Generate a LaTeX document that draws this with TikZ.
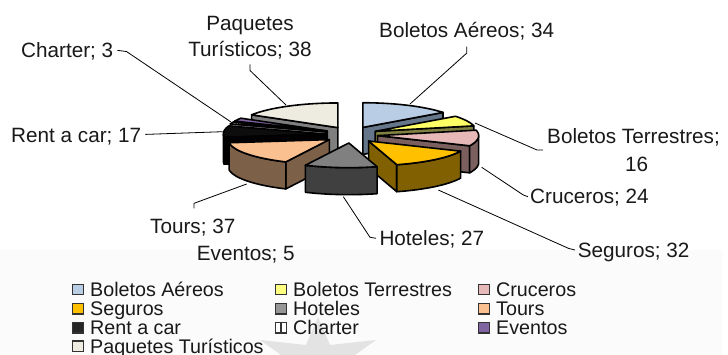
\documentclass[tikz,border=0pt]{standalone}
\usepackage{fontspec}
\setmainfont{Liberation Sans}
\definecolor{aerT}{HTML}{B9CDE5}\definecolor{aerS}{HTML}{66768A}
\definecolor{terT}{HTML}{FFFF66}\definecolor{terS}{HTML}{808040}
\definecolor{cruT}{HTML}{E6B9B8}\definecolor{cruS}{HTML}{7A5F5E}
\definecolor{segT}{HTML}{FFC000}\definecolor{segS}{HTML}{806000}
\definecolor{hotT}{HTML}{808080}\definecolor{hotS}{HTML}{404040}
\definecolor{touT}{HTML}{FAC090}\definecolor{touS}{HTML}{7D6048}
\definecolor{renT}{HTML}{0D0D0D}\definecolor{renS}{HTML}{000000}
\definecolor{chaT}{HTML}{FFFFFF}\definecolor{chaS}{HTML}{808080}
\definecolor{eveT}{HTML}{8064A2}\definecolor{eveS}{HTML}{403251}
\definecolor{paqT}{HTML}{EEECE1}\definecolor{paqS}{HTML}{7F7F7F}
\definecolor{legHot}{HTML}{969696}\definecolor{legRen}{HTML}{262626}
\definecolor{legTer}{HTML}{FFFF80}
\def\pcx{351}\def\pcy{134.8}\def\prx{101}\def\pry{24.7}\def\pex{26.8}\def\pey{8.2}\def\ph{27}
\newcommand\pieslice[4]{%
 \pgfmathsetmacro\psM{(#1+#2)/2}%
 \pgfmathsetmacro\psAx{\pcx+\pex*sin(\psM)}%
 \pgfmathsetmacro\psAy{\pcy-\pey*cos(\psM)}%
 \pgfmathtruncatemacro\psV{sin(#1)<-0.01}%
 \ifnum\psV=1
  \filldraw[pieedge,fill=#4] (\psAx,\psAy) -- ({\psAx+\prx*sin(#1)},{\psAy-\pry*cos(#1)}) -- ++(0,\ph) -- (\psAx,\psAy+\ph) -- cycle;
 \fi
 \pgfmathtruncatemacro\psV{sin(#2)>0.01}%
 \ifnum\psV=1
  \filldraw[pieedge,fill=#4] (\psAx,\psAy) -- ({\psAx+\prx*sin(#2)},{\psAy-\pry*cos(#2)}) -- ++(0,\ph) -- (\psAx,\psAy+\ph) -- cycle;
 \fi
 \pgfmathsetmacro\psLo{max(#1,90)}%
 \pgfmathsetmacro\psHi{min(#2,270)}%
 \pgfmathtruncatemacro\psV{\psLo<\psHi}%
 \ifnum\psV=1
  \filldraw[pieedge,fill=#4] plot[domain=\psLo:\psHi,samples=30] ({\psAx+\prx*sin(\x)},{\psAy-\pry*cos(\x)}) -- plot[domain=\psHi:\psLo,samples=30] ({\psAx+\prx*sin(\x)},{\psAy-\pry*cos(\x)+\ph}) -- cycle;
 \fi
 \filldraw[pieedge,fill=#3] (\psAx,\psAy) -- plot[domain=#1:#2,samples=30] ({\psAx+\prx*sin(\x)},{\psAy-\pry*cos(\x)}) -- cycle;
}
\begin{document}
\begin{tikzpicture}[x=1pt,y=-1pt,
  pieedge/.style={draw=black,line width=1.6pt,line join=round},
  lbl/.style={inner sep=0pt,font=\fontsize{20.7}{24}\selectfont,text=black!90},
  leader/.style={draw=black,line width=0.8pt},
  legsq/.style={draw=black!80,line width=1.4pt,minimum size=10.5pt,inner sep=0pt},
  legtx/.style={anchor=base west,inner sep=0pt,font=\fontsize{19.7}{22}\selectfont,text=black!90}]
\useasboundingbox (0,0) rectangle (728,355);
\clip (0,0) rectangle (728,355);
\fill[white] (0,0) rectangle (728,355);
\fill[black!1.5] (0,250) rectangle (722,355);
% faint watermark
\fill[black!11] (318,317) -- (330,345) -- (376,340) -- (345,362) -- (318,380) -- (291,362) -- (260,340) -- (306,345) -- cycle;
% pie slices, back to front
\pieslice{0}{52.532}{aerT}{aerS}
\pieslice{301.288}{360}{paqT}{paqS}
\pieslice{293.562}{301.288}{eveT}{eveS}
\pieslice{52.532}{77.253}{terT}{terS}
\pieslice{288.927}{293.562}{chaT}{chaS}
\pieslice{262.661}{288.927}{renT}{renS}
\pieslice{77.253}{114.335}{cruT}{cruS}
\pieslice{205.494}{262.661}{touT}{touS}
\pieslice{114.335}{163.777}{segT}{segS}
\pieslice{163.777}{205.494}{hotT}{hotS}
% leader end points on the pie
\coordinate (eAer) at (410,104);
\coordinate (ePaq) at (286,105);
\coordinate (eCha) at (231,122);
\coordinate (eRen) at (222.7,131.7);
\coordinate (eTer) at (475,123);
\coordinate (eCru) at (481.7,167.3);
\coordinate (eSeg) at (438.3,190);
\coordinate (eHot) at (343.3,196.7);
\coordinate (eTou) at (246.7,184);
% labels
\node[lbl,anchor=base west] (lAer) at (379,37.7) {Boletos Aéreos; 34};
\node[lbl,anchor=base] (lPaq1) at (250,30.7) {Paquetes};
\node[lbl,anchor=base] (lPaq2) at (250,57) {Turísticos; 38};
\node[lbl,anchor=base west] (lCha) at (21,57.4) {Charter; 3};
\node[lbl,anchor=base west] (lRen) at (11,142.4) {Rent a car; 17};
\node[lbl,anchor=base west] (lTer1) at (547,144) {Boletos Terrestres;};
\node[lbl,anchor=base] (lTer2) at (636.7,171.7) {16};
\node[lbl,anchor=base west] (lCru) at (530,204) {Cruceros; 24};
\node[lbl,anchor=base west] (lSeg) at (577.7,257.4) {Seguros; 32};
\node[lbl,anchor=base west] (lHot) at (379.3,245.7) {Hoteles; 27};
\node[lbl,anchor=base west] (lTou) at (150,234) {Tours; 37};
\node[lbl,anchor=base west] (lEve) at (196.7,260.7) {Eventos; 5};
% leaders
\draw[leader] ([shift={(0,9)}]lAer.base) -- ++(0,6.5) -- (eAer);
\draw[leader] ([shift={(0,7.5)}]lPaq2.base) -- ++(0,6) -- (ePaq);
\draw[leader] ([shift={(4,-7)}]lCha.base east) -- ++(9,1.1) -- (eCha);
\draw[leader] ([shift={(4,-8)}]lRen.base east) -- (eRen);
\draw[leader] ([shift={(-4,6)}]lTer1.base west) -- ++(-6,0) -- (eTer);
\draw[leader] ([shift={(-2,-7.3)}]lCru.base west) -- ++(-4.7,-1.7) -- (eCru);
\draw[leader] ([shift={(-2.7,-7.4)}]lSeg.base west) -- ++(-6.7,-1.7) -- (eSeg);
\draw[leader] ([shift={(-3.3,-7.4)}]lHot.base west) -- ++(-6,-1) -- (eHot);
\draw[leader] ([shift={(1.3,-25.7)}]lTou.base) -- ++(0,-5) -- (eTou);
% legend
\node[legsq,fill=aerT] (q1) at (78,289.5) {};
\node[legtx] (t1) at (90,296.5) {Boletos Aéreos};
\node[legsq,fill=legTer] (q2) at (281,289.5) {};
\node[legtx] (t2) at (293,296.5) {Boletos Terrestres};
\node[legsq,fill=cruT] (q3) at (484,289.5) {};
\node[legtx] (t3) at (496,296.5) {Cruceros};
\node[legsq,fill=segT] (q4) at (78,308.6) {};
\node[legtx] (t4) at (90,315.6) {Seguros};
\node[legsq,fill=legHot] (q5) at (281,308.6) {};
\node[legtx] (t5) at (293,315.6) {Hoteles};
\node[legsq,fill=touT] (q6) at (484,308.6) {};
\node[legtx] (t6) at (496,315.6) {Tours};
\node[legsq,fill=legRen] (q7) at (78,327.7) {};
\node[legtx] (t7) at (90,334.7) {Rent a car};
\node[legsq,fill=white] (q8) at (281,327.7) {};
\draw[draw=black!80,line width=1.4pt] (q8.north) -- (q8.south);
\node[legtx] (t8) at (293,334.7) {Charter};
\node[legsq,fill=eveT] (q9) at (484,327.7) {};
\node[legtx] (t9) at (496,334.7) {Eventos};
\node[legsq,fill=paqT] (q10) at (78,346.3) {};
\node[legtx] (t10) at (90,353.3) {Paquetes Turísticos};
\end{tikzpicture}
\end{document}
